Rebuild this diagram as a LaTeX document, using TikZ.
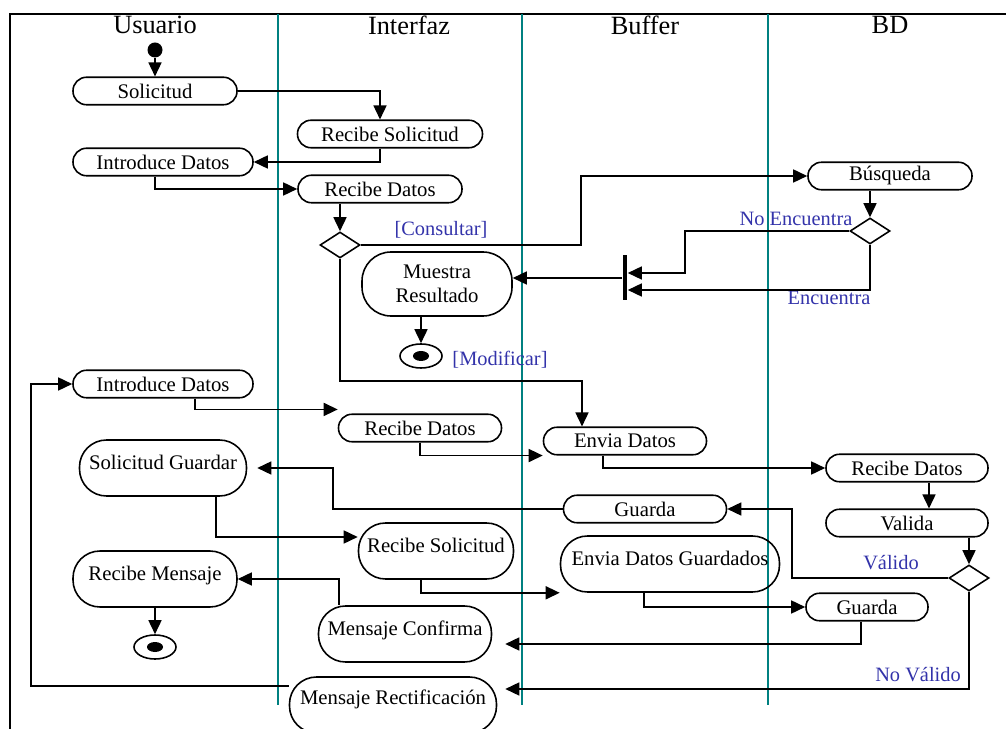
\documentclass[tikz,border=0pt]{standalone}
\usepackage{fontspec}
\setmainfont{Liberation Serif}
\usetikzlibrary{arrows.meta,shapes.geometric}

\definecolor{laneTeal}{RGB}{0,128,128}
\definecolor{guardBlue}{RGB}{51,51,170}

\begin{document}
\begin{tikzpicture}[x=0.2mm, y=-0.2mm, line width=0.9pt,
  font=\fontsize{11.8}{14}\selectfont,
  act/.style={draw, rectangle, rounded corners=2.7mm, minimum height=5.5mm, inner sep=0pt},
  tall/.style={draw, rectangle, rounded corners=5.4mm, minimum height=11.2mm, inner sep=0pt, text depth=2.4mm},
  decision/.style={draw, diamond, minimum width=8mm, minimum height=5.2mm, inner sep=0pt},
  final/.style={draw, ellipse, minimum width=8.4mm, minimum height=4.8mm, inner sep=0pt},
  guard/.style={font=\fontsize{11.6}{14}\selectfont, color=guardBlue},
  flow/.style={-{Triangle[length=2.8mm, width=2.6mm]}}]
\useasboundingbox (0,0) rectangle (1006,729);

%% ---- Swimlanes ----
\draw[line width=1.1pt] (1006,14) -- (10,14) -- (10,729);
\foreach \x in {278,522,768}
  \draw[laneTeal, line width=0.6pt] (\x,14) -- (\x,705);
\foreach \x/\lbl in {155/Usuario,409/Interfaz,645/Buffer,890/BD}
  \node[font=\fontsize{15}{17}\selectfont] at (\x,25) {\lbl};

%% ---- Consulta ----
\node[fill, circle, minimum size=3mm, inner sep=0pt] (inicio) at (155,50) {};
\node[act, minimum width=32.8mm] (sol)     at (155,91)  {Solicitud};
\node[act, minimum width=37mm]   (recSol)  at (390,134) {Recibe Solicitud};
\node[act, minimum width=36mm]   (intro1)  at (163,162) {Introduce Datos};
\node[act, minimum width=32.8mm] (recDat1) at (380,189) {Recibe Datos};
\node[decision] (dec1) at (340,245) {};
\node[act, minimum width=32.8mm] (busq)    at (890,176) {Búsqueda};
\node[decision] (dec2) at (870,231) {};
\node[fill, minimum width=0.8mm, minimum height=9mm, inner sep=0pt] (bar) at (625,278) {};
\node[draw, rectangle, rounded corners=5.8mm, minimum width=30mm, minimum height=12.8mm,
      inner sep=0pt, align=center] (muestra) at (437,284) {Muestra\\Resultado};
\node[final] (fin1) at (421,356) {};
\fill (fin1) ellipse (1.6mm and 1mm);

\node[guard] at (441,230) {[Consultar]};
\node[guard] at (796,219) {No Encuentra};
\node[guard] at (829,298) {Encuentra};
\node[guard] at (500,360) {[Modificar]};

%% ---- Modificacion ----
\node[act, minimum width=36mm]   (intro2)   at (163,384) {Introduce Datos};
\node[act, minimum width=32.6mm] (recDat2)  at (420,428) {Recibe Datos};
\node[act, minimum width=32.6mm] (envia)    at (625,441) {Envia Datos};
\node[act, minimum width=32.4mm] (recDat3)  at (907,468) {Recibe Datos};
\node[act, minimum width=32.4mm] (valida)   at (907,523) {Valida};
\node[decision] (dec3) at (969,578) {};
\node[act, minimum width=32.6mm] (guarda1)  at (645,509) {Guarda};
\node[tall, minimum width=33.4mm] (solGuard) at (163,468) {Solicitud Guardar};
\node[tall, minimum width=31mm]   (recSol2)  at (436,551) {Recibe Solicitud};
\node[tall, minimum width=43.8mm] (envGuard) at (670,564) {Envia Datos Guardados};
\node[act, minimum width=24.4mm]  (guarda2)  at (867,607) {Guarda};
\node[tall, minimum width=34.6mm] (mConf)    at (405,634) {Mensaje Confirma};
\node[tall, minimum width=32.8mm] (recMens)  at (155,579) {Recibe Mensaje};
\node[final] (fin2) at (155,647) {};
\fill (fin2) ellipse (1.6mm and 1mm);
\node[tall, minimum width=41.4mm, text depth=3.2mm] (mRect) at (393,705) {Mensaje Rectificación};

\node[guard] at (891,563) {Válido};
\node[guard] at (918,675) {No Válido};

%% ---- Flujos ----
\draw[flow] (inicio) -- (sol);
\draw[flow] (sol.east) -| ([xshift=-2mm]recSol.north);
\draw[flow] ([xshift=-2mm]recSol.south) |- (intro1.east);
\draw[flow] ([xshift=-1.6mm]intro1.south) |- (recDat1.west);
\draw[flow] (dec1.north |- recDat1.south) -- (dec1.north);
\draw[flow] (dec1.east) -- ++(220,0) |- (busq.west);
\draw[flow] (dec2.north |- busq.south) -- (dec2.north);
\draw[flow] (dec2.west) -- ++(-164,0) |- ([yshift=1mm]bar.east);
\draw[flow] (dec2.south) |- ([yshift=-2.4mm]bar.east);
\draw[flow] (bar.west) -- (bar.west -| muestra.east);
\draw[flow] (fin1.north |- muestra.south) -- (fin1.north);
\draw[flow] (dec1.south) -- ++(0,122) -| ([xshift=-8.6mm]envia.north);

\draw[flow] ([xshift=6.4mm]intro2.south) |- ([yshift=0.8mm]recDat2.north west);
\draw[flow] (recDat2.south) |- (envia.south west);
\draw[flow] ([xshift=-4.4mm]envia.south) |- (recDat3.west);
\draw[flow] ([xshift=4.4mm]recDat3.south) -- ([xshift=4.4mm]valida.north);
\draw[flow] (dec3.north |- valida.south) -- (dec3.north);
\draw[flow] (dec3.west) -- ++(-156,0) |- (guarda1.east);
\draw[flow] (guarda1.west) -- ++(-230,0) |- ([xshift=2mm]solGuard.east);
\draw[flow] ([xshift=10.6mm]solGuard.south) |- ([yshift=2.8mm]recSol2.west);
\draw[flow] ([xshift=-3mm]recSol2.south) |- (envGuard.south west);
\draw[flow] ([xshift=-5.2mm]envGuard.south) |- (guarda2.west);
\draw[flow] ([xshift=-1.2mm]guarda2.south) |- ([xshift=2.6mm, yshift=-2mm]mConf.east);
\draw[flow] ([xshift=-13.2mm]mConf.north) |- (recMens.east);
\draw[flow] (recMens.south) -- (fin2.north);
\draw[flow] (dec3.south) |- ([xshift=1.6mm, yshift=3.2mm]mRect.east);
\draw[flow] ([yshift=3.8mm]mRect.west) -| ([xshift=-8.2mm]intro2.west) -- (intro2.west);
\end{tikzpicture}
\end{document}
